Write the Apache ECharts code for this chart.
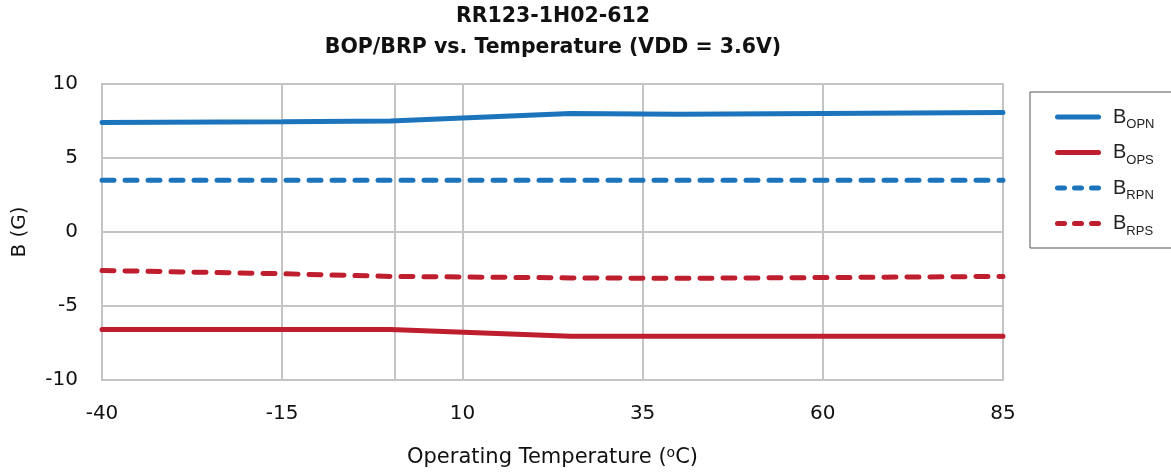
<!DOCTYPE html>
<html>
<head>
<meta charset="utf-8">
<script src="https://cdn.jsdelivr.net/npm/echarts@6/dist/echarts.min.js"></script>
<style>html,body{margin:0;padding:0;background:#fff;}#c{width:1171px;height:472px;}</style>
</head>
<body>
<div id="c"></div>
<script>
var temps = [-40, -15, 0, 25, 40, 60, 85];
var bopn = [7.40, 7.45, 7.50, 8.00, 7.95, 8.00, 8.07];
var bops = [-6.58, -6.58, -6.58, -7.05, -7.05, -7.05, -7.05];
var brpn = [3.50, 3.50, 3.50, 3.50, 3.50, 3.50, 3.50];
var brps = [-2.60, -2.82, -3.00, -3.10, -3.13, -3.08, -3.00];
var xTicks = [-40, -15, 10, 35, 60, 85];
var yTicks = [-10, -5, 0, 5, 10];
var extraGridX = 0.6;
var seriesNames = ['BOPN', 'BOPS', 'BRPN', 'BRPS'];
var subs = {BOPN: 'OPN', BOPS: 'OPS', BRPN: 'RPN', BRPS: 'RPS'};

var BLUE = '#1c75bc', RED = '#be1e2d', GRID = '#c4c4c4';
var FONT = '"DejaVu Sans", sans-serif';
var LFONT = '"Liberation Sans", Arial, sans-serif';

var SOLID_ICON = 'path://M2.5,0 h41 a2.5,2.5 0 0 1 0,5 h-41 a2.5,2.5 0 0 1 0,-5 z';
var DASH_ICON = 'path://M2.5,0 h7 a2.5,2.5 0 0 1 0,5 h-7 a2.5,2.5 0 0 1 0,-5 z ' +
  'M19.5,0 h7 a2.5,2.5 0 0 1 0,5 h-7 a2.5,2.5 0 0 1 0,-5 z ' +
  'M36.5,0 h7 a2.5,2.5 0 0 1 0,5 h-7 a2.5,2.5 0 0 1 0,-5 z';

function pairs(vals) { return temps.map(function (t, i) { return [t, vals[i]]; }); }
function mkSeries(name, vals, color, dashed) {
  return {
    name: name, type: 'line', data: pairs(vals), symbol: 'none', silent: true,
    lineStyle: { color: color, width: 5, type: dashed ? [12, 11] : 'solid', cap: 'round' },
    itemStyle: { color: color }
  };
}
var series = [
  mkSeries('BOPN', bopn, BLUE, false),
  mkSeries('BOPS', bops, RED, false),
  mkSeries('BRPN', brpn, BLUE, true),
  mkSeries('BRPS', brps, RED, true)
];
series[0].markLine = {
  silent: true, symbol: 'none', label: { show: false },
  lineStyle: { color: GRID, width: 2, type: 'solid' },
  data: [{ xAxis: extraGridX }], z: 1
};
series[0].z = 3;

var chart = echarts.init(document.getElementById('c'), null, { renderer: 'canvas' });
chart.setOption({
  animation: false,
  backgroundColor: '#fff',
  title: {
    text: 'RR123-1H02-612\nBOP/BRP vs. Temperature (VDD = 3.6V)',
    left: 553, top: 1, textAlign: 'center', padding: 0,
    textStyle: { fontFamily: FONT, fontWeight: 'bold', fontSize: 20.5, color: '#111', lineHeight: 31 }
  },
  graphic: [{
    type: 'rect', shape: { x: 1030, y: 92, width: 150, height: 156 },
    style: { fill: 'none', stroke: '#555', lineWidth: 1 }, silent: true
  }],
  legend: {
    orient: 'vertical', left: 1055, top: 107, padding: 0,
    itemWidth: 46, itemHeight: 5, itemGap: 11.5,
    data: [
      { name: 'BOPN', icon: SOLID_ICON, itemStyle: { color: BLUE } },
      { name: 'BOPS', icon: SOLID_ICON, itemStyle: { color: RED } },
      { name: 'BRPN', icon: DASH_ICON, itemStyle: { color: BLUE } },
      { name: 'BRPS', icon: DASH_ICON, itemStyle: { color: RED } }
    ],
    formatter: function (n) { return '{b|B}{s|' + subs[n] + '}'; },
    textStyle: {
      padding: [0, 0, 0, 7],
      rich: {
        b: { fontFamily: LFONT, fontSize: 20, lineHeight: 20, color: '#222', verticalAlign: 'bottom' },
        s: { fontFamily: LFONT, fontSize: 13, lineHeight: 20, color: '#222', verticalAlign: 'bottom', padding: [0, 0, -4, 0] }
      }
    }
  },
  grid: { left: 102, right: 168, top: 84, bottom: 92, show: true, borderColor: GRID, borderWidth: 2,
    containLabel: false, outerBoundsMode: 'none' },
  xAxis: {
    type: 'value', min: -40, max: 85, interval: 25,
    name: '{m|Operating Temperature (}{sup|o}{m|C)}', nameLocation: 'middle', nameGap: 66,
    nameTextStyle: { fontFamily: FONT, fontSize: 21, color: '#111',
      rich: {
        m: { fontFamily: FONT, fontSize: 21, lineHeight: 24, color: '#111', verticalAlign: 'middle' },
        sup: { fontFamily: FONT, fontSize: 14, lineHeight: 10, color: '#111', verticalAlign: 'top' }
      } },
    axisLine: { show: false }, axisTick: { show: false },
    axisLabel: { fontFamily: FONT, fontSize: 20, color: '#111', margin: 24,
      formatter: function (v) { return xTicks.indexOf(v) >= 0 ? String(v) : ''; } },
    splitLine: { show: true, lineStyle: { color: GRID, width: 2 } }
  },
  yAxis: {
    type: 'value', min: -10, max: 10, interval: 5,
    name: 'B (G)', nameLocation: 'middle', nameGap: 72, nameRotate: 90,
    nameTextStyle: { fontFamily: FONT, fontSize: 20, color: '#111' },
    axisLine: { show: false }, axisTick: { show: false },
    axisLabel: { fontFamily: FONT, fontSize: 20, color: '#111', margin: 24,
      formatter: function (v) { return yTicks.indexOf(v) >= 0 ? String(v) : ''; } },
    splitLine: { show: true, lineStyle: { color: GRID, width: 2 } }
  },
  series: series
});
</script>
</body>
</html>
